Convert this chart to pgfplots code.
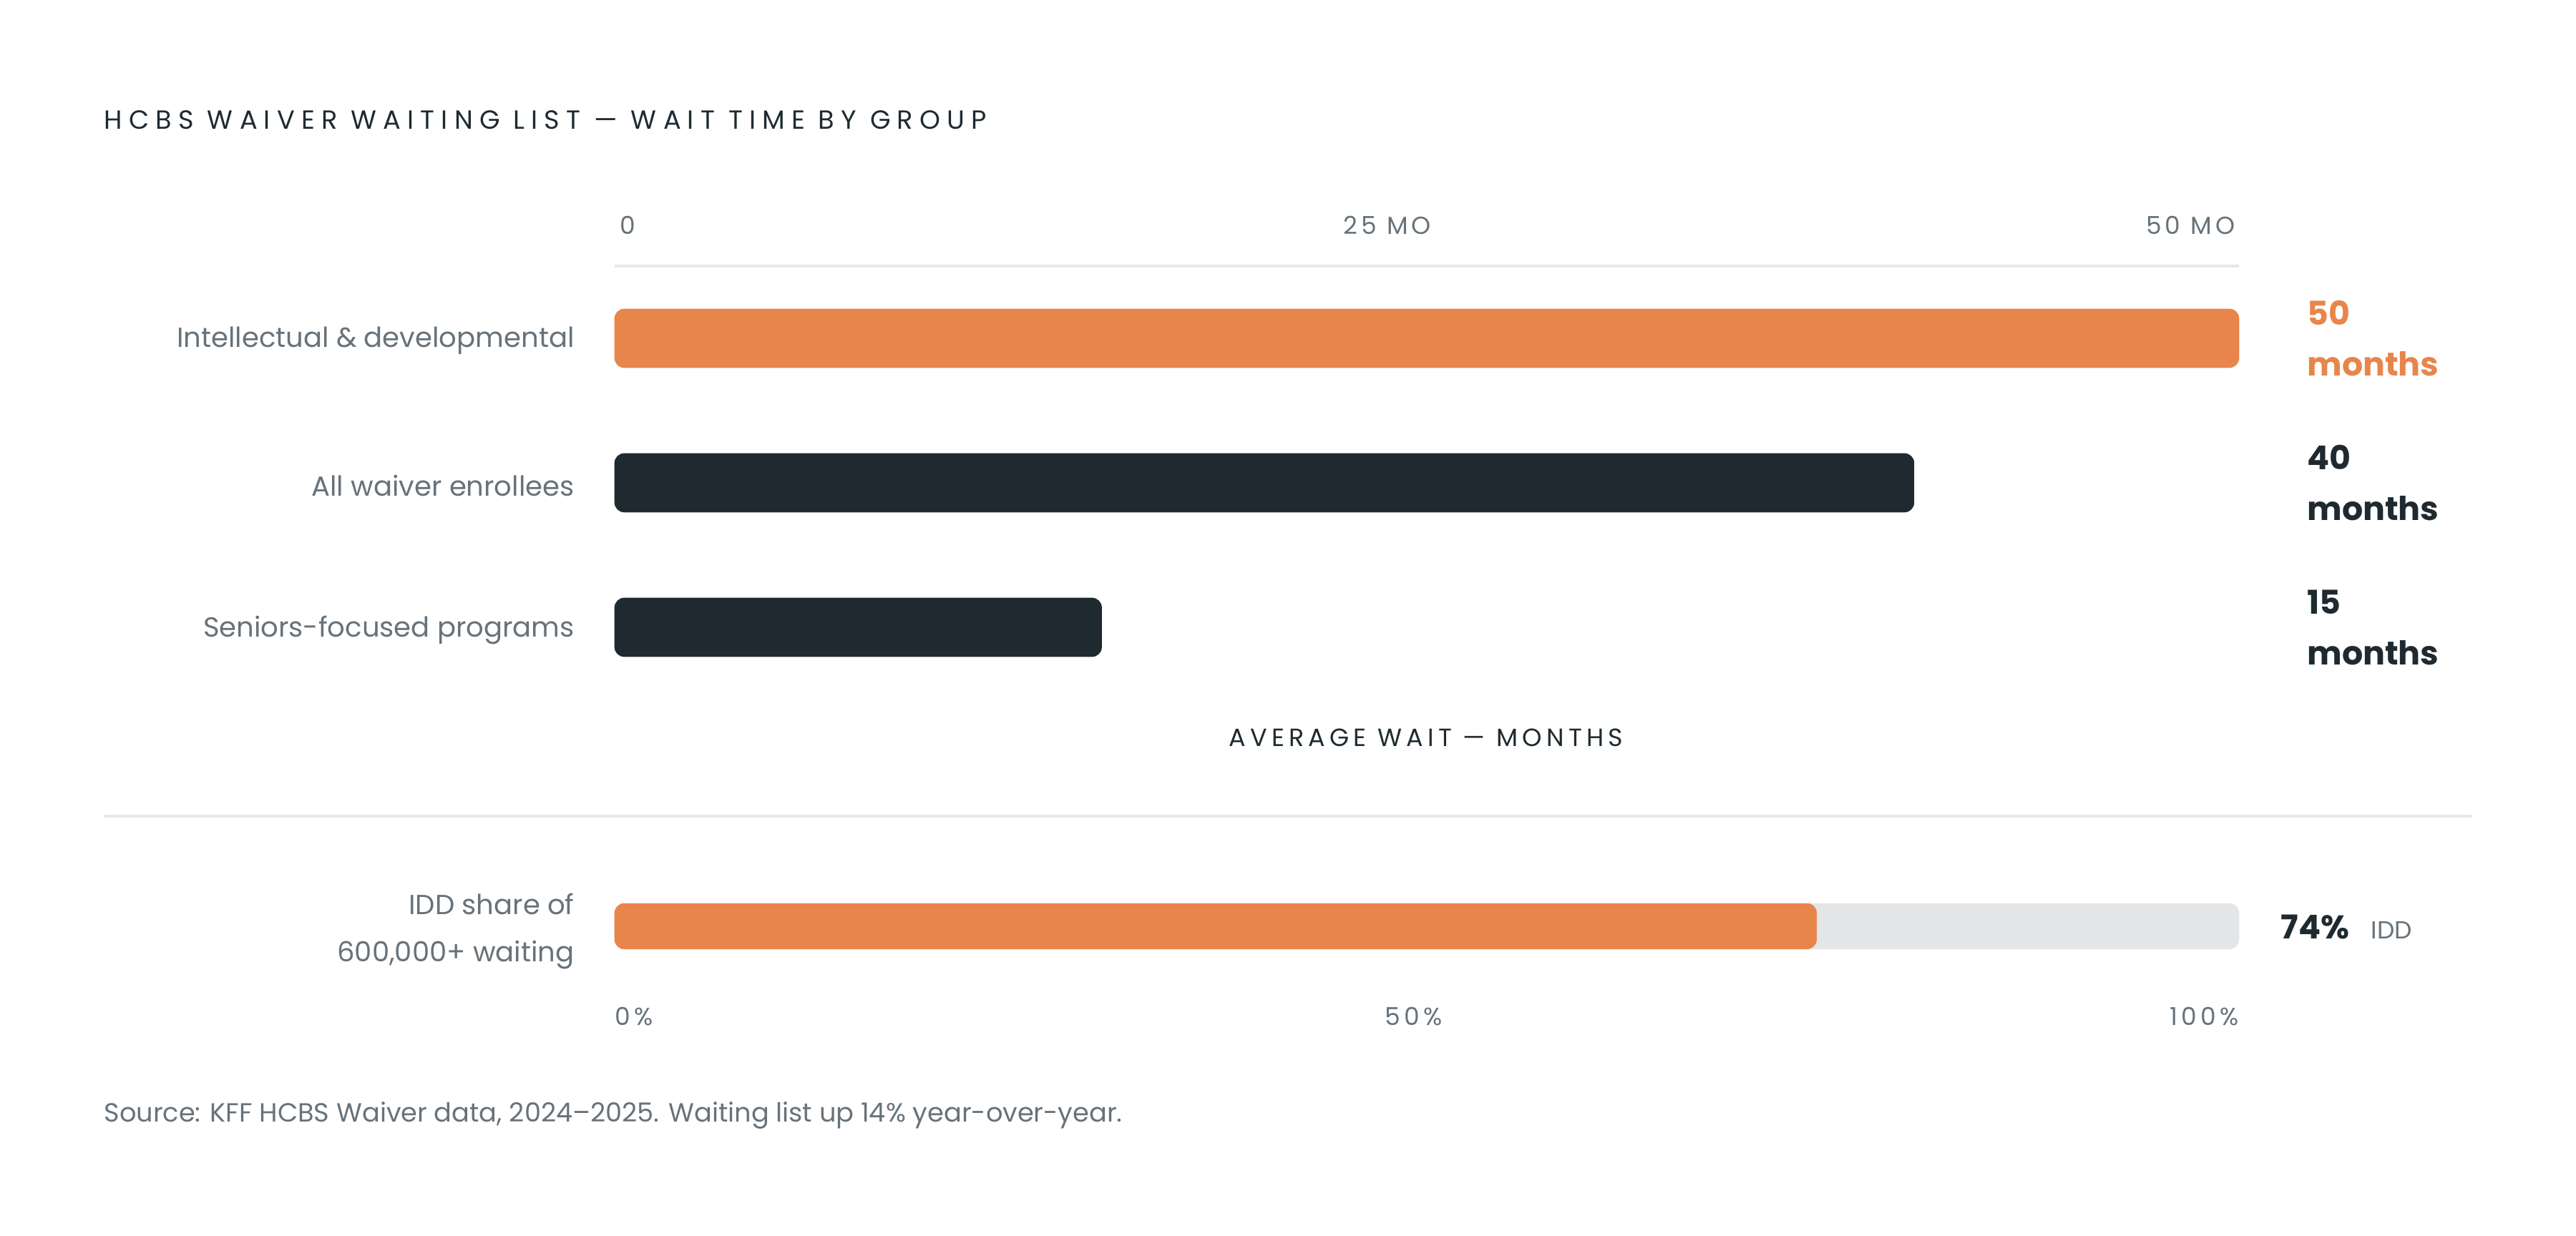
\documentclass[border=0pt]{standalone}
\usepackage{fontspec}
\setmainfont{Poppins}
\newfontfamily\spacedtitle[LetterSpace=25]{Poppins}
\newfontfamily\spaced[LetterSpace=18]{Poppins}
\newfontfamily\spacedtick[LetterSpace=15]{Poppins}
\usepackage{pgfplots}
\pgfplotsset{compat=1.18}
\definecolor{cOrange}{HTML}{E8854A}
\definecolor{cDark}{HTML}{1E2A30}
\definecolor{cText}{HTML}{67727A}
\definecolor{cLine}{HTML}{E6E7E8}
\definecolor{cBarBg}{HTML}{E4E5E7}
\begin{document}
\begin{tikzpicture}
\path[use as bounding box] (0,0) rectangle (784pt,-376.3pt);
\node[anchor=base west, inner sep=0pt, font=\spacedtitle\fontsize{8}{9}\selectfont, text=cDark] at (31.5pt,-39.25pt) {HCBS WAIVER WAITING LIST — WAIT TIME BY GROUP};

\begin{axis}[
  at={(187pt,-81pt)}, anchor=north west,
  width=494.5pt, height=132pt, scale only axis,
  xmin=0, xmax=50, ymin=0.5, ymax=3.5,
  axis line style={draw=none}, tick style={draw=none},
  major tick length=0pt,
  xtick=\empty,
  ytick={1,2,3},
  yticklabels={Seniors-focused programs, All waiver enrollees, Intellectual \& developmental},
  yticklabel style={anchor=east, inner sep=0pt, xshift=-12pt, yshift=-0.8pt, font=\fontsize{8.4}{10}\selectfont, text=cText},
  clip=false,
]
\draw[cLine, line width=1pt] (rel axis cs:0,1) -- (rel axis cs:1,1);
\addplot[xbar, bar shift=0pt, bar width=18pt, fill=cOrange, draw=none, rounded corners=3pt] coordinates {(50,3)};
\addplot[xbar, bar shift=0pt, bar width=18pt, fill=cDark, draw=none, rounded corners=3pt] coordinates {(40,2) (15,1)};
\node[anchor=base west, inner sep=0pt, font=\spacedtick\fontsize{7.5}{8}\selectfont, text=cText] at (axis cs:0,3.5) [xshift=1.5pt, yshift=9.75pt] {0};
\node[anchor=base east, inner sep=0pt, font=\spacedtick\fontsize{7.5}{8}\selectfont, text=cText] at (axis cs:25,3.5) [xshift=1.5pt, yshift=9.75pt] {25 MO};
\node[anchor=base east, inner sep=0pt, font=\spacedtick\fontsize{7.5}{8}\selectfont, text=cText] at (axis cs:50,3.5) [xshift=-1pt, yshift=9.75pt] {50 MO};
\node[anchor=west, align=left, inner sep=0pt, font=\fontsize{10}{15.5}\selectfont\bfseries, text=cOrange] at (axis cs:50,3) [xshift=20.5pt] {50\\months};
\node[anchor=west, align=left, inner sep=0pt, font=\fontsize{10}{15.5}\selectfont\bfseries, text=cDark] at (axis cs:50,2) [xshift=20.5pt] {40\\months};
\node[anchor=west, align=left, inner sep=0pt, font=\fontsize{10}{15.5}\selectfont\bfseries, text=cDark] at (axis cs:50,1) [xshift=20.5pt] {15\\months};
\end{axis}

\node[anchor=base, inner sep=0pt, font=\spaced\fontsize{7.6}{9}\selectfont, text=cDark] at (434pt,-227.25pt) {AVERAGE WAIT — MONTHS};
\draw[cLine, line width=1pt] (31.5pt,-248.5pt) -- (752.5pt,-248.5pt);

\begin{axis}[
  at={(187pt,-262pt)}, anchor=north west,
  width=494.5pt, height=40pt, scale only axis,
  xmin=0, xmax=100, ymin=0.5, ymax=1.5,
  axis line style={draw=none}, tick style={draw=none},
  major tick length=0pt,
  xtick=\empty,
  ytick={1},
  yticklabels={{IDD share of\\600{,}000+ waiting}},
  yticklabel style={anchor=east, align=right, inner sep=0pt, xshift=-12pt, yshift=-1.5pt, font=\fontsize{8.4}{14.5}\selectfont, text=cText},
  clip=false,
]
\addplot[xbar, bar shift=0pt, bar width=14pt, fill=cBarBg, draw=none, rounded corners=3pt] coordinates {(100,1)};
\addplot[xbar, bar shift=0pt, bar width=14pt, fill=cOrange, draw=none, rounded corners=3pt] coordinates {(74,1)};
\node[anchor=base west, inner sep=0pt, font=\fontsize{10}{12}\selectfont\bfseries, text=cDark] at (axis cs:100,1) [xshift=12.5pt, yshift=-3.75pt] {74\%};
\node[anchor=base west, inner sep=0pt, font=\fontsize{7.5}{9}\selectfont, text=cText] at (axis cs:100,1) [xshift=40pt, yshift=-3.75pt] {IDD};
\node[anchor=base west, inner sep=0pt, font=\spacedtick\fontsize{7.5}{8}\selectfont, text=cText] at (axis cs:0,0.5) [yshift=-10.25pt] {0\%};
\node[anchor=base, inner sep=0pt, font=\spacedtick\fontsize{7.5}{8}\selectfont, text=cText] at (axis cs:50,0.5) [xshift=-4pt, yshift=-10.25pt] {50\%};
\node[anchor=base east, inner sep=0pt, font=\spacedtick\fontsize{7.5}{8}\selectfont, text=cText] at (axis cs:100,0.5) [yshift=-10.25pt] {100\%};
\end{axis}

\node[anchor=base west, inner sep=0pt, font=\fontsize{8}{9}\selectfont, text=cText] at (31.5pt,-341.5pt) {Source: KFF HCBS Waiver data, 2024–2025. Waiting list up 14\% year-over-year.};
\end{tikzpicture}
\end{document}
